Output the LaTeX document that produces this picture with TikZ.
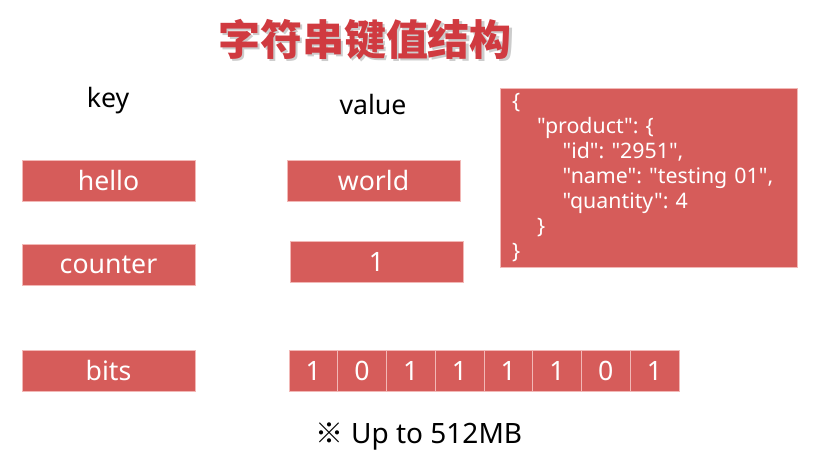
\documentclass[tikz,border=0pt]{standalone}
\usepackage{fontspec}
\setmainfont{Noto Sans}
\newfontfamily\cjk{Noto Sans CJK SC}
\newfontfamily\jsonfont{Noto Sans}[Ligatures=TeXOff]
\usetikzlibrary{positioning}
\definecolor{boxred}{HTML}{D65C5A}
\definecolor{titlered}{HTML}{D03A40}
\definecolor{edgepink}{HTML}{F2B8B6}
\frenchspacing

\begin{document}
\begin{tikzpicture}[
  x=0.75pt, y=-0.75pt,
  every node/.style={font=\fontsize{20}{24}\selectfont, inner sep=0pt, outer sep=0pt},
  keybox/.style={draw=edgepink, line width=0.5pt, fill=boxred, text=white,
                 minimum width=129.75pt, minimum height=30.75pt},
  bitbox/.style={keybox, minimum width=36.56pt},
  titletext/.style={font=\cjk\bfseries\fontsize{31.5}{36}\selectfont},
]
\path[fill=white, use as bounding box] (0,0) rectangle (815,470);

% title with its soft shadow
\node[titletext, text=black!20] (shadow) at (367,42) {字符串键值结构};
\node[titletext, text=titlered] (title) at (365,40) {字符串键值结构};

% column heads
\node (key) at (108,101) {key};
\node (value) at (373,105) {value};

% keys
\node[keybox] (hello) at (108.5,180.5) {hello};
\node[keybox] (counter) at (108.5,265) {counter};
\node[keybox] (bits) at (108.5,371) {bits};

% values
\node[keybox] (world) at (373.5,180.5) {world};
\node[keybox] (one) at (376.5,261.5) {1};
\node[bitbox, right=70.5pt of bits] (b1) {1};
\node[bitbox, right=0pt of b1] (b2) {0};
\node[bitbox, right=0pt of b2] (b3) {1};
\node[bitbox, right=0pt of b3] (b4) {1};
\node[bitbox, right=0pt of b4] (b5) {1};
\node[bitbox, right=0pt of b5] (b6) {1};
\node[bitbox, right=0pt of b6] (b7) {0};
\node[bitbox, right=0pt of b7] (b8) {1};

\node[keybox, minimum width=222.75pt, minimum height=134.25pt,
      text width=204.75pt, align=left, font=\jsonfont\fontsize{16}{18.75}\selectfont]
  (json) at (648.5,177.5)
  {\{\\
   \hspace*{18.75pt}"product": \{\\
   \hspace*{38pt}"id": "2951",\\
   \hspace*{38pt}"name": "testing 01",\\
   \hspace*{38pt}"quantity": 4\\
   \hspace*{18.75pt}\}\\
   \}};

% size note
\node[font=\fontsize{21}{25}\selectfont] (limit) at (419,437) {{\cjk ※} Up to 512MB};
\end{tikzpicture}
\end{document}
